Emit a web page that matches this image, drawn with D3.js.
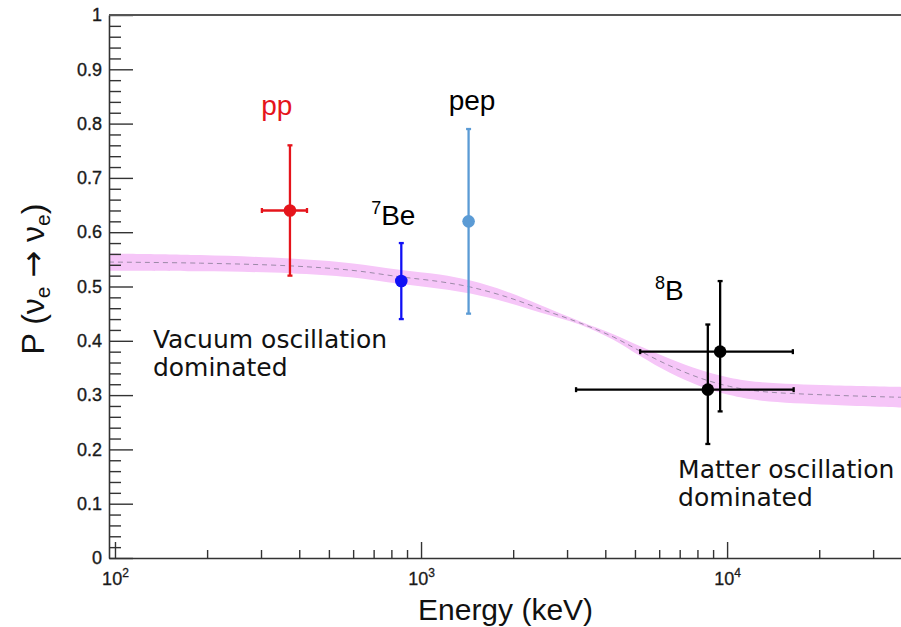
<!DOCTYPE html>
<html>
<head>
<meta charset="utf-8">
<script src="https://cdn.jsdelivr.net/npm/d3@7"></script>
<style>
  body { margin: 0; background: #fff; }
  svg { display: block; }
</style>
</head>
<body>
<svg id="chart" width="901" height="627"></svg>
<script>
// ---- Electron-neutrino survival probability, MSW-LMA prediction band ----
const curveEnergy    = [95.6, 190, 373, 590, 850, 1150, 1450, 1900, 2450, 3300, 4250, 5200, 6500, 8200, 10200, 12800, 21700, 37000];
const curveP         = [0.545, 0.543, 0.538, 0.530, 0.518, 0.509, 0.499, 0.481, 0.459, 0.433, 0.407, 0.381, 0.354, 0.331, 0.316, 0.307, 0.300, 0.296];
const curveHalfWidth = [0.016, 0.015, 0.0135, 0.013, 0.013, 0.013, 0.012, 0.010, 0.007, 0.003, 0.005, 0.009, 0.013, 0.015, 0.016, 0.017, 0.018, 0.019];

// ---- Measured survival probabilities per solar-neutrino source ----
const sourceNames     = ["pp", "7Be", "pep", "8B", "8B"];
const pointEnergy     = [373, 862, 1430, 9490, 8650];     // keV
const pointEnergyLow  = [302, 862, 1430, 5200, 3210];
const pointEnergyHigh = [424, 862, 1430, 16400, 16500];
const pointP          = [0.64, 0.51, 0.62, 0.38, 0.31];
const pointPLow       = [0.52, 0.44, 0.45, 0.27, 0.21];
const pointPHigh      = [0.76, 0.58, 0.79, 0.51, 0.43];

// ---- Axis ticks ----
const yTickValues = [0, 0.1, 0.2, 0.3, 0.4, 0.5, 0.6, 0.7, 0.8, 0.9, 1];
const yTickLabels = ["0", "0.1", "0.2", "0.3", "0.4", "0.5", "0.6", "0.7", "0.8", "0.9", "1"];
const xTickExponents = [2, 3, 4];

// ---- Layout and style ----
const svg = d3.select("#chart");
const plot = { left: 109, right: 901, top: 15, bottom: 558 };
const helv = "'Liberation Sans', Arial, Helvetica, sans-serif";
const dejavu = "'DejaVu Sans', Verdana, sans-serif";
const sourceColor = { "pp": "#e5141b", "7Be": "#1010f5", "pep": "#5b9bd5", "8B": "#000000" };

const x = d3.scaleLog().domain([95.6, 37000]).range([plot.left, plot.right]);
const y = d3.scaleLinear().domain([0, 1]).range([plot.bottom, plot.top]);

svg.append("defs").append("clipPath").attr("id", "plotClip")
  .append("rect")
  .attr("x", plot.left).attr("y", plot.top)
  .attr("width", plot.right - plot.left).attr("height", plot.bottom - plot.top);

// ---- Prediction band ----
const curve = curveEnergy.map((e, i) => ({ e, p: curveP[i], h: curveHalfWidth[i] }));
const smooth = d3.curveCatmullRom.alpha(0.5);
const band = svg.append("g").attr("clip-path", "url(#plotClip)");
band.append("path")
  .datum(curve)
  .attr("fill", "#f6c6f8")
  .attr("d", d3.area()
    .x(d => x(d.e))
    .y0(d => y(d.p - d.h))
    .y1(d => y(d.p + d.h))
    .curve(smooth));
band.append("path")
  .datum(curve)
  .attr("fill", "none")
  .attr("stroke", "#9c8aa8")
  .attr("stroke-width", 1)
  .attr("stroke-dasharray", "5,4")
  .attr("d", d3.line()
    .x(d => x(d.e))
    .y(d => y(d.p))
    .curve(smooth));

// ---- Axes (ROOT style: ticks drawn inside the frame) ----
const yMinor = d3.range(0, 1.0001, 0.02).filter(v => Math.abs(v * 10 - Math.round(v * 10)) > 1e-6);
svg.append("g")
  .attr("transform", `translate(${plot.left},0)`)
  .call(d3.axisLeft(y).tickValues(yMinor).tickSizeInner(-12).tickSizeOuter(0).tickFormat(""))
  .call(g => g.select(".domain").remove())
  .call(g => g.selectAll(".tick line").attr("stroke", "#333").attr("stroke-width", 1.4));

svg.append("g")
  .attr("transform", `translate(${plot.left},0)`)
  .call(d3.axisLeft(y).tickValues(yTickValues).tickSizeInner(-24).tickSizeOuter(0).tickPadding(7)
    .tickFormat((d, i) => yTickLabels[i]))
  .call(g => g.select(".domain").attr("stroke", "#333").attr("stroke-width", 1.6))
  .call(g => g.selectAll(".tick line").attr("stroke", "#333").attr("stroke-width", 1.4))
  .call(g => g.selectAll(".tick text")
    .attr("font-family", helv).attr("font-size", 18).attr("fill", "#1a1a1a")
    .attr("stroke", "#1a1a1a").attr("stroke-width", 0.35));

const xMajor = xTickExponents.map(k => Math.pow(10, k));
const xMinor = x.ticks().filter(v => !xMajor.some(m => Math.abs(v - m) < 1e-6));
svg.append("g")
  .attr("transform", `translate(0,${plot.bottom})`)
  .call(d3.axisBottom(x).tickValues(xMinor).tickSizeInner(-8).tickSizeOuter(0).tickFormat(""))
  .call(g => g.select(".domain").remove())
  .call(g => g.selectAll(".tick line").attr("stroke", "#333").attr("stroke-width", 1.4));

const xAxisG = svg.append("g")
  .attr("transform", `translate(0,${plot.bottom})`)
  .call(d3.axisBottom(x).tickValues(xMajor).tickSizeInner(-16).tickSizeOuter(0).tickFormat(""))
  .call(g => g.select(".domain").attr("stroke", "#333").attr("stroke-width", 1.6))
  .call(g => g.selectAll(".tick line").attr("stroke", "#333").attr("stroke-width", 1.4));

xAxisG.selectAll(".tick").each(function (d, i) {
  const t = d3.select(this).append("text")
    .attr("y", 27)
    .attr("text-anchor", "middle")
    .attr("font-family", helv)
    .attr("font-size", 18)
    .attr("fill", "#1a1a1a")
    .attr("stroke", "#1a1a1a").attr("stroke-width", 0.3);
  t.append("tspan").text("10");
  t.append("tspan").attr("dy", -8).attr("font-size", 12).text(String(xTickExponents[i]));
});

// top frame line
svg.append("line")
  .attr("x1", plot.left).attr("x2", plot.right)
  .attr("y1", plot.top).attr("y2", plot.top)
  .attr("stroke", "#555").attr("stroke-width", 2);

// ---- Axis titles ----
svg.append("text")
  .attr("x", 418).attr("y", 620)
  .attr("font-family", helv).attr("font-size", 30).attr("fill", "#111")
  .text("Energy (keV)");

const yTitle = svg.append("text")
  .attr("transform", "translate(44,279) rotate(-90)")
  .attr("text-anchor", "middle")
  .attr("font-family", helv).attr("font-size", 32).attr("fill", "#111");
yTitle.append("tspan").text("P (\u03BD");
yTitle.append("tspan").attr("dy", 6).attr("font-size", 21).text("e");
yTitle.append("tspan").attr("dy", -6).text(" ");
yTitle.append("tspan").attr("font-family", dejavu).attr("font-size", 32).text("\u2192");
yTitle.append("tspan").text(" \u03BD");
yTitle.append("tspan").attr("dy", 6).attr("font-size", 21).text("e");
yTitle.append("tspan").attr("dy", -6).text(")");

// ---- Measurements with error bars ----
const points = pointEnergy.map((e, i) => ({
  name: sourceNames[i], e, p: pointP[i],
  eLo: pointEnergyLow[i], eHi: pointEnergyHigh[i],
  pLo: pointPLow[i], pHi: pointPHigh[i]
}));
const cap = 2.5;
const pts = svg.append("g");
points.forEach(d => {
  const c = sourceColor[d.name];
  const g = pts.append("g").attr("stroke", c).attr("stroke-width", 2.3);
  const cx = x(d.e), cy = y(d.p);
  // vertical error bar
  g.append("line").attr("x1", cx).attr("x2", cx).attr("y1", y(d.pLo)).attr("y2", y(d.pHi));
  g.append("line").attr("x1", cx - cap).attr("x2", cx + cap).attr("y1", y(d.pLo)).attr("y2", y(d.pLo));
  g.append("line").attr("x1", cx - cap).attr("x2", cx + cap).attr("y1", y(d.pHi)).attr("y2", y(d.pHi));
  // horizontal error bar (energy range)
  if (d.eHi > d.eLo) {
    g.append("line").attr("x1", x(d.eLo)).attr("x2", x(d.eHi)).attr("y1", cy).attr("y2", cy);
    g.append("line").attr("x1", x(d.eLo)).attr("x2", x(d.eLo)).attr("y1", cy - cap).attr("y2", cy + cap);
    g.append("line").attr("x1", x(d.eHi)).attr("x2", x(d.eHi)).attr("y1", cy - cap).attr("y2", cy + cap);
  }
  pts.append("circle").attr("cx", cx).attr("cy", cy).attr("r", 6.3).attr("fill", c);
});

// ---- Source labels ----
svg.append("text")
  .attr("x", x(338)).attr("y", y(0.816)).attr("text-anchor", "middle")
  .attr("font-family", helv).attr("font-size", 28).attr("fill", sourceColor["pp"])
  .text("pp");

svg.append("text")
  .attr("x", x(1468)).attr("y", y(0.825)).attr("text-anchor", "middle")
  .attr("font-family", helv).attr("font-size", 28).attr("fill", "#000")
  .text("pep");

const beLabel = svg.append("text")
  .attr("x", x(687)).attr("y", y(0.613))
  .attr("font-family", helv).attr("font-size", 28).attr("fill", "#000");
beLabel.append("tspan").attr("font-size", 18).attr("dy", -11).text("7");
beLabel.append("tspan").attr("dy", 11).text("Be");

const bLabel = svg.append("text")
  .attr("x", x(5818)).attr("y", y(0.475))
  .attr("font-family", helv).attr("font-size", 28).attr("fill", "#000");
bLabel.append("tspan").attr("font-size", 18).attr("dy", -11).text("8");
bLabel.append("tspan").attr("dy", 11).text("B");

// ---- Regime annotations ----
function twoLine(e, p, lines) {
  const t = svg.append("text")
    .attr("font-family", dejavu).attr("font-size", 25).attr("fill", "#111");
  lines.forEach((s, i) => {
    t.append("tspan").attr("x", x(e)).attr("y", y(p) + i * 28).text(s);
  });
}
twoLine(133, 0.387, ["Vacuum oscillation", "dominated"]);
twoLine(6918, 0.147, ["Matter oscillation", "dominated"]);
</script>
</body>
</html>
